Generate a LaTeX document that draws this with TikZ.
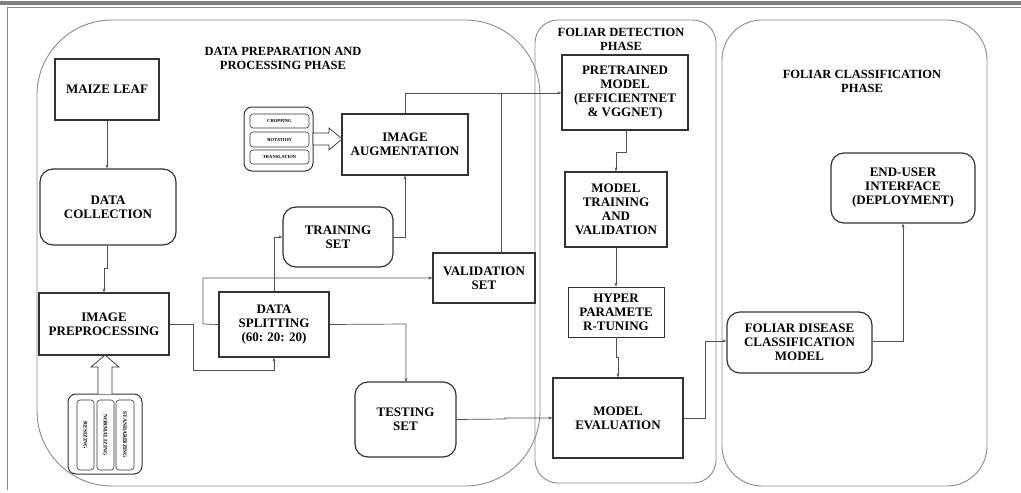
\documentclass[tikz,border=0pt]{standalone}
\usepackage{fontspec}
\setmainfont{Liberation Serif}
\usetikzlibrary{arrows.meta}
\definecolor{phasegray}{HTML}{8A8A8A}
\definecolor{linegray}{HTML}{505050}
\definecolor{boxdark}{HTML}{333333}
\begin{document}
\begin{tikzpicture}[x=1pt,y=-1pt,
  nodefont/.style={font=\fontsize{13}{14}\selectfont\bfseries},
  sqbox/.style={draw=boxdark,line width=1.2pt,rectangle,align=center,nodefont,inner sep=0pt},
  rbox/.style={sqbox,rounded corners=13pt},
  thinbox/.style={sqbox,line width=0.8pt},
  phase/.style={draw=phasegray,line width=0.9pt},
  title/.style={align=center,font=\fontsize{12.5}{14}\selectfont\bfseries},
  conn/.style={draw=linegray,line width=0.7pt,-{Stealth[length=4pt,width=3pt]}},
  plain/.style={draw=linegray,line width=0.7pt},
  tinybox/.style={draw=boxdark,line width=0.6pt,rounded corners=3pt,inner sep=0pt,font=\fontsize{4.6}{5}\selectfont\bfseries},
  blockarrow/.style={draw=boxdark,line width=0.7pt,fill=white}
]
\useasboundingbox (0,0) rectangle (1021,493);
% page frame
\fill[gray!95!black,fill=gray] (0,0.5) rectangle (1021,5);
\draw[phasegray,line width=0.8pt] (1021,7) -- (7,7) -- (7,490);

% phase boxes
\draw[phase,rounded corners=75pt] (37,20) rectangle (540,486);
\draw[phase,rounded corners=23pt] (535,20) rectangle (716,483);
\draw[phase,rounded corners=40pt] (722,20) rectangle (987,486);

% titles
\node[title] (t1) at (283,58) {DATA PREPARATION AND\\PROCESSING PHASE};
\node[title] (t2) at (621,39) {FOLIAR DETECTION\\PHASE};
\node[title] (t3) at (862,81) {FOLIAR CLASSIFICATION\\PHASE};

% data preparation nodes
\node[sqbox,minimum width=104pt,minimum height=61pt] (maize) at (107,89.5) {MAIZE LEAF};
\node[rbox,minimum width=136pt,minimum height=76pt] (collect) at (108,207) {DATA\\COLLECTION};
\node[sqbox,minimum width=130pt,minimum height=62pt] (preproc) at (104,324) {IMAGE\\PREPROCESSING};
\node[sqbox,minimum width=110pt,minimum height=65pt] (split) at (274,324.5) {DATA\\SPLITTING\\(60: 20: 20)};
\node[rbox,minimum width=110pt,minimum height=60pt] (train) at (338,237) {TRAINING\\SET};
\node[sqbox,minimum width=126pt,minimum height=61pt] (aug) at (405,144.5) {IMAGE\\AUGMENTATION};
\node[sqbox,minimum width=102pt,minimum height=50pt] (val) at (484,278) {VALIDATION\\SET};
\node[rbox,minimum width=101pt,minimum height=75pt] (test) at (405.5,419.5) {TESTING\\SET};

% augmentation options
\node[draw=boxdark,line width=1pt,rounded corners=8pt,minimum width=69pt,minimum height=64pt] (augopts) at (278.5,139) {};
\node[tinybox,minimum width=59pt,minimum height=14pt] (crop) at (279.5,121) {CROPPING};
\node[tinybox,minimum width=59pt,minimum height=15pt] (rot) at (279.5,139.5) {ROTATION};
\node[tinybox,minimum width=59pt,minimum height=14pt] (trans) at (279.5,157) {TRANSLATION};
\draw[blockarrow] (313,133) -- (329,133) -- (329,128) -- (342,139) -- (329,150) -- (329,145) -- (313,145) -- cycle;

% preprocessing options
\node[draw=boxdark,line width=1pt,rounded corners=8pt,minimum width=74pt,minimum height=80pt] (preopts) at (105,434) {};
\node[tinybox,minimum width=17pt,minimum height=70pt] (resz) at (85.5,435) {};
\node[tinybox,minimum width=17pt,minimum height=70pt] (norm) at (105.5,435) {};
\node[tinybox,minimum width=18pt,minimum height=70pt] (stan) at (125,435) {};
\node[rotate=-90,font=\fontsize{5.5}{6}\selectfont\bfseries] (reszt) at (resz) {RESIZING};
\node[rotate=-90,font=\fontsize{5.5}{6}\selectfont\bfseries] (normt) at (norm) {NORMALIZING};
\node[rotate=-90,font=\fontsize{5.5}{6}\selectfont\bfseries] (stant) at (stan) {STANDARDIZING};
\draw[blockarrow] (98,394) -- (98,367) -- (91,367) -- (105,355) -- (119,367) -- (112,367) -- (112,394);

% detection nodes
\node[sqbox,minimum width=126pt,minimum height=75pt] (pre) at (625,92.5) {PRETRAINED\\MODEL\\(EFFICIENTNET\\\& VGGNET)};
\node[sqbox,minimum width=102pt,minimum height=75pt] (mtrain) at (616,209.5) {MODEL\\TRAINING\\AND\\VALIDATION};
\node[thinbox,minimum width=96pt,minimum height=50pt] (hyper) at (616,312) {HYPER\\PARAMETE\\R-TUNING};
\node[sqbox,minimum width=130pt,minimum height=80pt] (eval) at (618,418) {MODEL\\EVALUATION};

% classification nodes
\node[rbox,minimum width=145pt,minimum height=61pt] (fdcm) at (799.5,342.5) {FOLIAR DISEASE\\CLASSIFICATION\\MODEL};
\node[rbox,minimum width=144pt,minimum height=70pt] (enduser) at (903,188) {END-USER\\INTERFACE\\(DEPLOYMENT)};

% connectors
\coordinate (j1) at (107,268);
\coordinate (j2) at (104,268);
\coordinate (valtop) at (501,253);
\coordinate (merge) at (501,93);

\draw[conn] (maize.south) -- (maize.south |- collect.north);
\draw[conn] (collect.south -| j1) -- (j1) -- (j2) -- (j2 |- preproc.north);
\draw[conn] (preproc.east) -- (193,324) -- (193,370) -- (274,370) -- (split.south);
\draw[conn] (split.west) -- (203,324) -- (203,278) -- (val.west);
\draw[conn] (split.north) -- (274,237) -- (train.west);
\draw[conn] (train.east) -- (405,237) -- (aug.south);
\draw[conn] (aug.north) -- (405,93) -- (pre.west |- merge);
\draw[plain] (valtop) -- (merge);
\draw[conn] (split.east) -- (406,324) -- (406,382);
\draw[conn] (test.east) -- (505,419) -- (505,418) -- (eval.west);
\draw[conn] (626,130) -- (626,152) -- (616,152) -- (mtrain.north);
\draw[conn] (mtrain.south) -- (hyper.north);
\draw[conn] (hyper.south) -- (616,357) -- (618,357) -- (eval.north);
\draw[conn] (eval.east) -- (705,418) -- (705,341) -- (fdcm.west |- 0,341);
\draw[conn] (fdcm.east |- 0,341) -- (903,341) -- (enduser.south);
\end{tikzpicture}
\end{document}
